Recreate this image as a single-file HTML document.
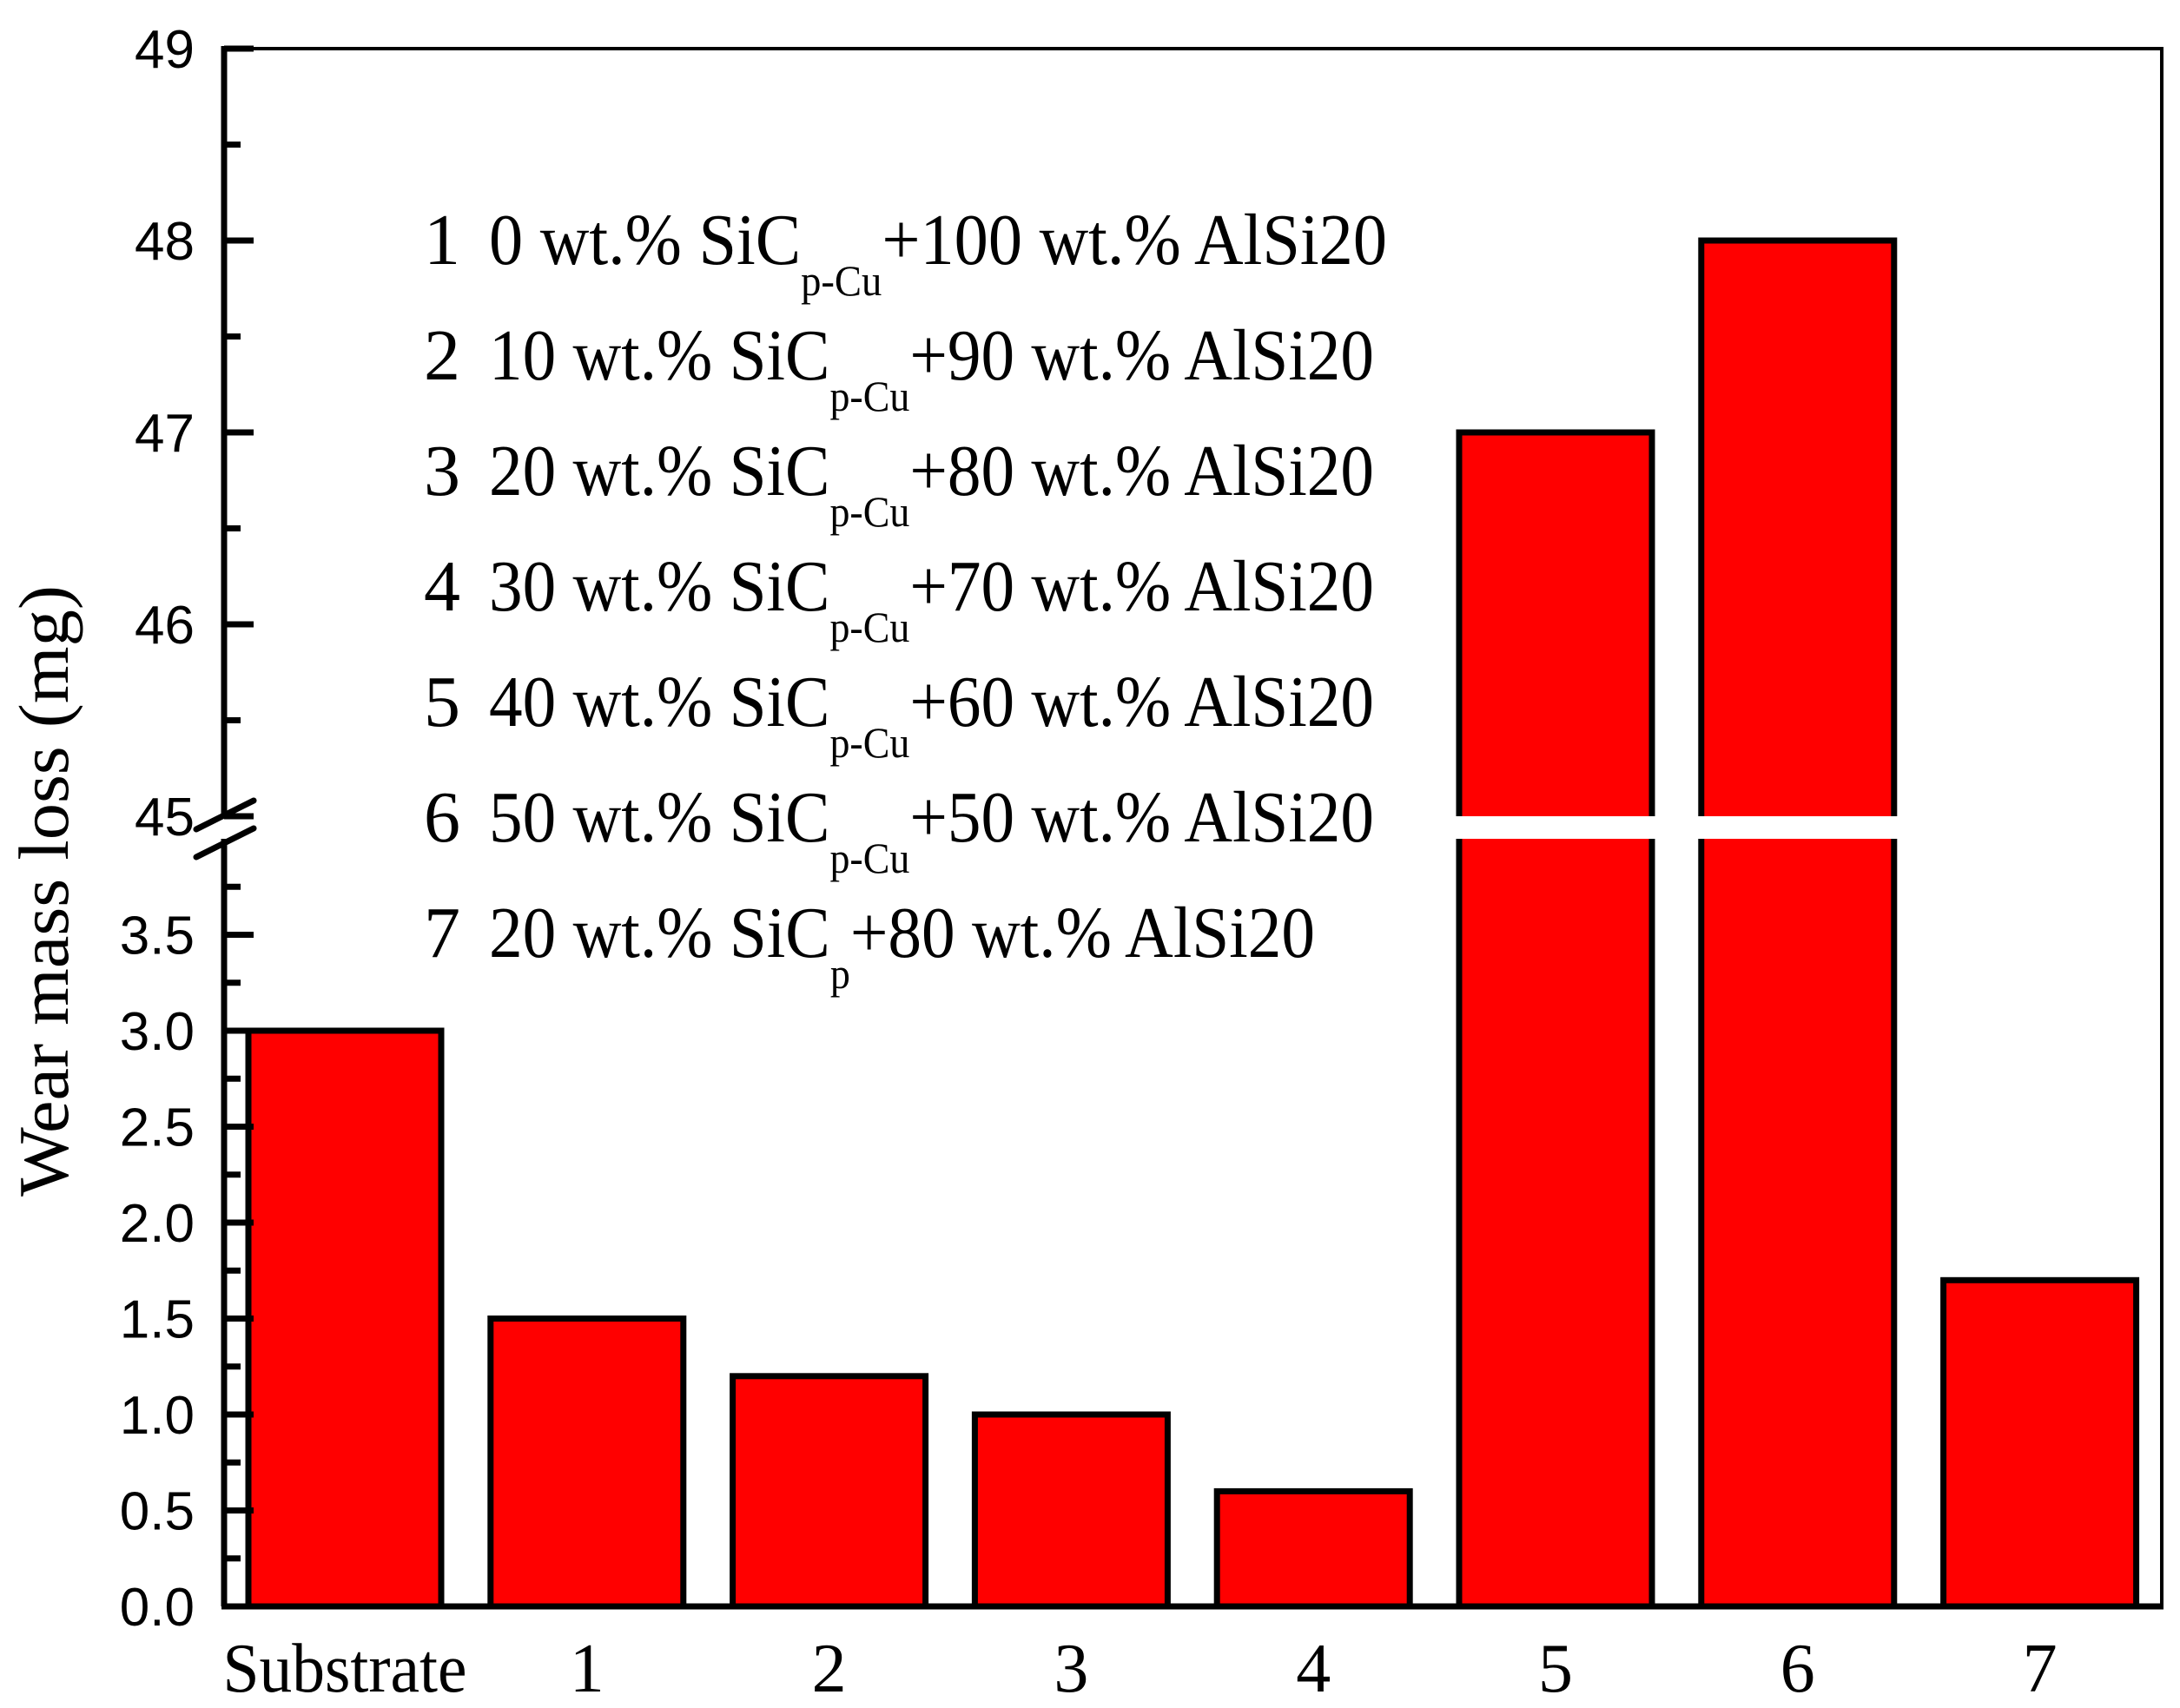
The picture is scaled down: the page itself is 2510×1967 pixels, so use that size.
<!DOCTYPE html>
<html><head><meta charset="utf-8"><style>
html,body{margin:0;padding:0;background:#fff;}
svg{display:block;}
.tl{font-family:"Liberation Sans",Arial,sans-serif;font-size:62px;fill:#000;}
.tm{font-family:"Liberation Serif","Times New Roman",serif;fill:#000;}
</style></head><body>
<svg id="chart" width="2510" height="1967" viewBox="0 0 2510 1967" xmlns="http://www.w3.org/2000/svg">
<rect x="0" y="0" width="2510" height="1967" fill="#fff"/>
<g id="bars"></g>
<g id="axes"></g>
<text class="tm" font-size="82" transform="translate(78,1026) rotate(-90)" text-anchor="middle" textLength="704" lengthAdjust="spacingAndGlyphs">Wear mass loss (mg)</text>
<g id="legend"></g>
</svg>
<script>
const categories = ["Substrate","1","2","3","4","5","6","7"];
const values = [3.0,1.5,1.2,1.0,0.6,47,48,1.7];
const lowerTicks = [0.0,0.5,1.0,1.5,2.0,2.5,3.0,3.5];
const lowerTickLabels = ["0.0","0.5","1.0","1.5","2.0","2.5","3.0","3.5"];
const upperTicks = [45,46,47,48,49];
const upperTickLabels = ["45","46","47","48","49"];
const legendNums = ["1","2","3","4","5","6","7"];
const legendPre = ["0 wt.% SiC","10 wt.% SiC","20 wt.% SiC","30 wt.% SiC","40 wt.% SiC","50 wt.% SiC","20 wt.% SiC"];
const legendSub = ["p-Cu","p-Cu","p-Cu","p-Cu","p-Cu","p-Cu","p"];
const legendPost = ["+100 wt.% AlSi20","+90 wt.% AlSi20","+80 wt.% AlSi20","+70 wt.% AlSi20","+60 wt.% AlSi20","+50 wt.% AlSi20","+80 wt.% AlSi20"];

const NS="http://www.w3.org/2000/svg";
const AX=258, TOP=56, RIGHT=2489, BOT=1850;
const PX=221; // px per unit
const BREAK_LO=4.0, BREAK_HI=45, GAP_TOP=940, GAP_BOT=966;
function y(v){ return v>=BREAK_HI ? GAP_TOP-(v-BREAK_HI)*PX : BOT-v*PX; }
const STEP=278.8, X0=286, BW=222;
function x(i){ return X0+i*STEP; }
function mk(tag,attrs,parent){const e=document.createElementNS(NS,tag);for(const k in attrs)e.setAttribute(k,attrs[k]);parent.appendChild(e);return e;}

const bars=document.getElementById('bars');
values.forEach((v,i)=>{
  const r=mk('rect',{x:x(i),y:y(v),width:BW,height:BOT-y(v),fill:'#ff0000',stroke:'#000','stroke-width':7},bars);
  
  
  if(v>=BREAK_HI){
    const g=mk('rect',{x:x(i)-6,y:GAP_TOP,width:BW+12,height:GAP_BOT-GAP_TOP,fill:'#fff'},bars);
    
    
  }
  const t=mk('text',{x:x(i)+BW/2,y:1948,'text-anchor':'middle','font-size':80,class:'tm'},bars);
  if(i===0){t.setAttribute('textLength',281);t.setAttribute('lengthAdjust','spacingAndGlyphs');}
  t.textContent=categories[i];
  
  
});

const axes=document.getElementById('axes');
// frame
let f=mk('polyline',{points:`${AX},${TOP} ${RIGHT},${TOP} ${RIGHT},${BOT}`,fill:'none',stroke:'#000','stroke-width':4},axes);


let xa=mk('line',{x1:AX-3,y1:BOT,x2:RIGHT+2,y2:BOT,stroke:'#000','stroke-width':7},axes);


let ya1=mk('line',{x1:AX,y1:TOP-3,x2:AX,y2:940,stroke:'#000','stroke-width':7},axes);


let ya2=mk('line',{x1:AX,y1:966,x2:AX,y2:BOT,stroke:'#000','stroke-width':7},axes);


[[955,922],[987,954]].forEach(p=>{
  const l=mk('line',{x1:226,y1:p[0],x2:292,y2:p[1],stroke:'#000','stroke-width':7,'stroke-linecap':'round'},axes);
  
  
});
function tick(v,len){mk('line',{x1:AX,y1:y(v),x2:AX+len,y2:y(v),stroke:'#000','stroke-width':7},axes);}
lowerTicks.forEach((v,i)=>{
  tick(v,34); tick(v+0.25,19);
  const t=mk('text',{x:224,y:y(v)+22,'text-anchor':'end',class:'tl'},axes);
  t.textContent=lowerTickLabels[i];
  
  
});
upperTicks.forEach((v,i)=>{
  tick(v,34); if(v<49) tick(v+0.5,19);
  const t=mk('text',{x:224,y:y(v)+22,'text-anchor':'end',class:'tl'},axes);
  t.textContent=upperTickLabels[i];
  
  
});

const lg=document.getElementById('legend');
const widths=[1034,1019,1019,1019,1019,1019,951];
legendNums.forEach((n,i)=>{
  const by=304+i*133;
  const nt=mk('text',{x:488,y:by,'font-size':84,class:'tm'},lg);
  nt.textContent=n;
  
  
  const t=mk('text',{x:563,y:by,'font-size':84,class:'tm',textLength:widths[i],lengthAdjust:'spacingAndGlyphs'},lg);
  
  
  const a=mk('tspan',{},t); a.textContent=legendPre[i];
  const s=mk('tspan',{dy:36,'font-size':50},t); s.textContent=legendSub[i];
  const b=mk('tspan',{dy:-36},t); b.textContent=legendPost[i];
});
</script>
</body></html>
